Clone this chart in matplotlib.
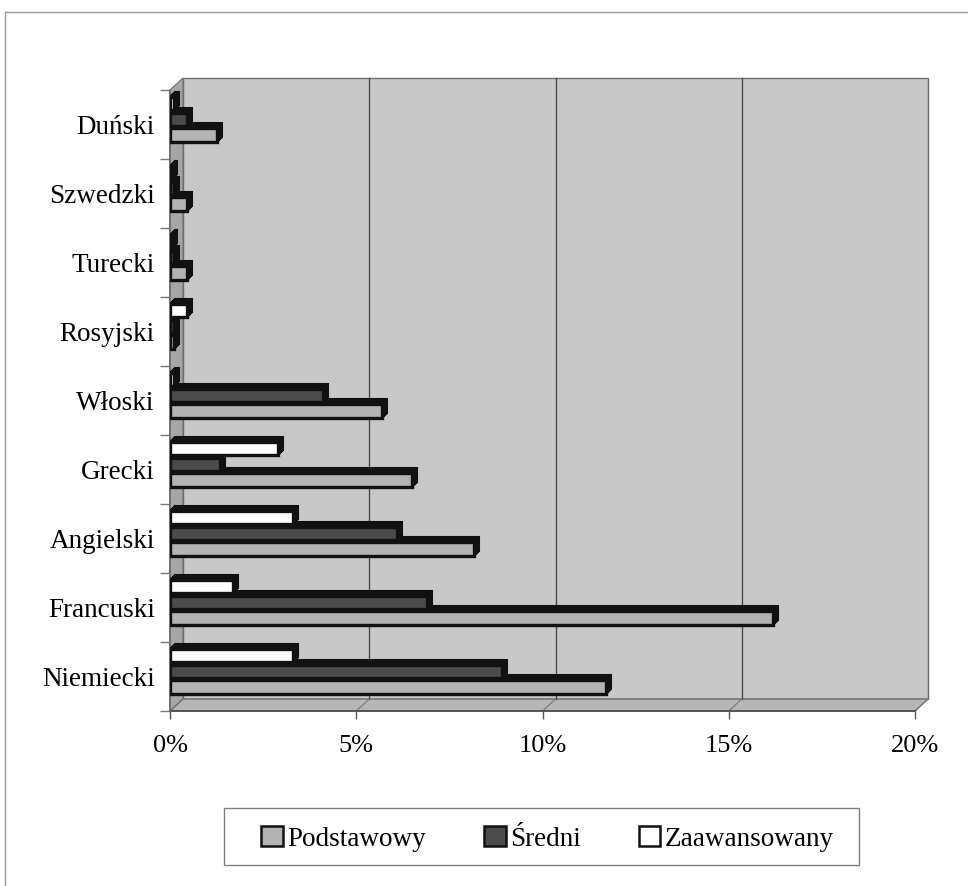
import matplotlib
matplotlib.use("Agg")
import matplotlib.pyplot as plt
import numpy as np
from matplotlib.patches import Rectangle, Polygon, Patch
from matplotlib.lines import Line2D
from matplotlib.transforms import ScaledTranslation

plt.rcParams['font.family'] = ['Liberation Serif', 'DejaVu Serif']

# Languages, listed from the bottom of the chart to the top
categories = ['Niemiecki', 'Francuski', 'Angielski', 'Grecki', 'Włoski',
              'Rosyjski', 'Turecki', 'Szwedzki', 'Duński']

# Share of respondents (%) by proficiency level
podstawowy = [11.7, 16.2, 8.15, 6.5, 5.7, 0.1, 0.45, 0.45, 1.25]
sredni = [8.9, 6.9, 6.1, 1.35, 4.1, 0.1, 0.1, 0.1, 0.45]
zaawansowany = [3.3, 1.7, 3.3, 2.9, 0.1, 0.45, 0.05, 0.05, 0.1]

series_names = ['Podstawowy', 'Średni', 'Zaawansowany']
xticks = [0, 5, 10, 15, 20]
xtick_labels = ['0%', '5%', '10%', '15%', '20%']

W, H, DPI = 968, 886, 100
fig = plt.figure(figsize=(W / DPI, H / DPI), dpi=DPI)
fig.patch.set_facecolor('white')

# front plane of the plot area, in pixels
left, right, top, bottom = 170, 915, 90, 711
ax = fig.add_axes([left / W, 1 - bottom / H, (right - left) / W, (bottom - top) / H])
ax.patch.set_visible(False)
ax.set_xlim(0, 20)
ax.set_ylim(-0.5, len(categories) - 0.5)

# depth of the 3-D box (pixels) expressed as axes fractions
dx_px, dy_px = 13, 12
dxa = dx_px / (right - left)
dya = dy_px / (bottom - top)

wall_edge = '#6e6e6e'
back = Rectangle((dxa, dya), 1, 1, transform=ax.transAxes, facecolor='#c8c8c8',
                 edgecolor=wall_edge, lw=1.0, clip_on=False, zorder=0.1)
side = Polygon([(0, 0), (dxa, dya), (dxa, 1 + dya), (0, 1)], closed=True,
               transform=ax.transAxes, facecolor='#a6a6a6', edgecolor=wall_edge,
               lw=0.8, clip_on=False, zorder=0.2)
floor = Polygon([(0, 0), (1, 0), (1 + dxa, dya), (dxa, dya)], closed=True,
                transform=ax.transAxes, facecolor='#b6b6b6', edgecolor=wall_edge,
                lw=1.0, clip_on=False, zorder=0.2)
for p in (back, side, floor):
    ax.add_patch(p)

# gridlines on the back wall and their traces across the floor
depth = ScaledTranslation(dx_px / DPI, dy_px / DPI, fig.dpi_scale_trans)
for v in xticks[1:-1]:
    ax.plot([v, v], [0, 1], transform=ax.get_xaxis_transform() + depth,
            color='#4a4a4a', lw=1.0, zorder=0.3, clip_on=False)
for v in xticks:
    ax.plot([v / 20, v / 20 + dxa], [0, dya], transform=ax.transAxes,
            color='#7a7a7a', lw=0.8, zorder=0.3, clip_on=False)

# clustered 3-D bars
y = np.arange(len(categories))
offsets = [-0.155, 0.075, 0.305]
fills = ['#b3b3b3', '#4b4b4b', '#ffffff']
bar_h = 0.195
ext = 5  # extrusion depth of each bar in pixels

for vals, off, fc in zip([podstawowy, sredni, zaawansowany], offsets, fills):
    for k in range(1, ext + 1):
        shift = ScaledTranslation(k / DPI, k / DPI, fig.dpi_scale_trans)
        ax.barh(y + off, vals, height=bar_h, left=0, color='#111111',
                edgecolor='#111111', lw=1.5, transform=ax.transData + shift,
                zorder=1)
    ax.barh(y + off, vals, height=bar_h, left=0, color=fc,
            edgecolor='#111111', lw=2.4, zorder=1)

for s in ax.spines.values():
    s.set_visible(False)

# front edges of the box
ax.plot([0, 0], [0, 1], transform=ax.transAxes, color='#6a6a6a', lw=1.2,
        clip_on=False, zorder=0.4)
ax.plot([0, 1], [0, 0], transform=ax.transAxes, color='#555555', lw=1.4,
        clip_on=False, zorder=0.4)

ax.set_xticks(xticks)
ax.set_xticklabels(xtick_labels, fontsize=19)
ax.tick_params(axis='x', length=6, width=1, color='#555555', pad=11)

ax.set_yticks(y)
ax.set_yticklabels(categories, fontsize=19.5)
ax.set_yticks(np.arange(-0.5, len(categories)), minor=True)
ax.tick_params(axis='y', which='major', length=0, pad=11)
ax.tick_params(axis='y', which='minor', length=7, width=1, color='#777777')

# legend: entries without frame, boxed separately
handles = [Patch(facecolor=fc, edgecolor='#111111', lw=1.8) for fc in fills]
leg = fig.legend(handles, series_names, loc='center',
                 bbox_to_anchor=(547.5 / W, 1 - 839 / H),
                 ncol=3, fontsize=19.5, frameon=False,
                 handlelength=0.8, handleheight=0.75, handletextpad=0.15,
                 columnspacing=2.15, borderpad=0.0)
fig.add_artist(Rectangle((224 / W, 1 - 865 / H), (859 - 224) / W, (865 - 808) / H,
                         transform=fig.transFigure, facecolor='none',
                         edgecolor='#808080', lw=1.0))

# outer chart frame
fig.add_artist(Line2D([5 / W, 1], [1 - 12 / H, 1 - 12 / H], color='#999999', lw=1.0))
fig.add_artist(Line2D([5 / W, 5 / W], [0, 1 - 12 / H], color='#999999', lw=1.0))

fig.savefig('out.png', dpi=DPI, facecolor='white')
